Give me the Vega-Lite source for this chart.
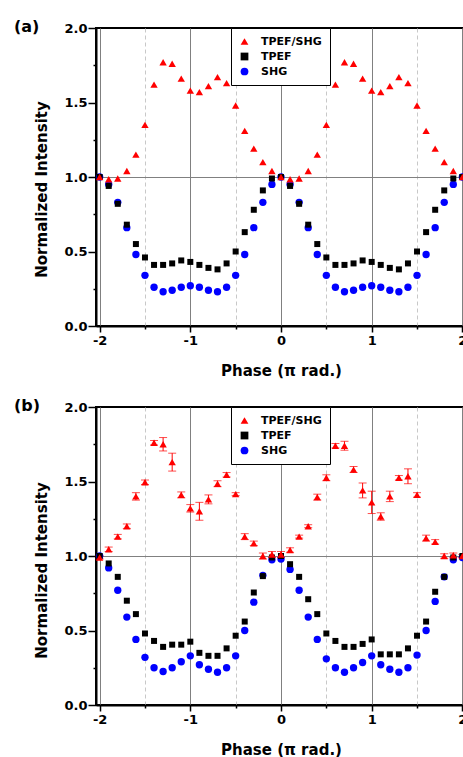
{
  "$schema": "https://vega.github.io/schema/vega-lite/v6.json",
  "background": "white",
  "padding": {"left": 13, "top": 18, "right": 0, "bottom": 0},
  "spacing": 18,
  "config": {
    "font": "DejaVu Sans",
    "view": {"stroke": "black", "strokeWidth": 2},
    "axis": {
      "labelFont": "DejaVu Sans", "labelFontWeight": "bold", "labelFontSize": 13, "labelColor": "black",
      "titleFont": "DejaVu Sans", "titleFontWeight": "bold", "titleFontSize": 15, "titleColor": "black",
      "domainColor": "black", "domainWidth": 2, "tickColor": "black", "tickWidth": 1.5
    },
    "title": {"font": "DejaVu Sans", "fontSize": 16, "fontWeight": "bold", "color": "black", "anchor": "start", "frame": "group"}
  },
  "resolve": {"scale": {"color": "independent", "shape": "independent"}, "legend": {"color": "independent", "shape": "independent"}},
  "datasets": {
    "a": [
      {"x": -2.0, "TPEF/SHG": 1.0, "TPEF": 1.0, "SHG": 1.0},
      {"x": -1.9, "TPEF/SHG": 0.985, "TPEF": 0.94, "SHG": 0.95},
      {"x": -1.8, "TPEF/SHG": 0.99, "TPEF": 0.82, "SHG": 0.83},
      {"x": -1.7, "TPEF/SHG": 1.04, "TPEF": 0.68, "SHG": 0.66},
      {"x": -1.6, "TPEF/SHG": 1.15, "TPEF": 0.55, "SHG": 0.48},
      {"x": -1.5, "TPEF/SHG": 1.35, "TPEF": 0.46, "SHG": 0.34},
      {"x": -1.4, "TPEF/SHG": 1.62, "TPEF": 0.41, "SHG": 0.26},
      {"x": -1.3, "TPEF/SHG": 1.77, "TPEF": 0.41, "SHG": 0.23},
      {"x": -1.2, "TPEF/SHG": 1.76, "TPEF": 0.42, "SHG": 0.24},
      {"x": -1.1, "TPEF/SHG": 1.66, "TPEF": 0.44, "SHG": 0.26},
      {"x": -1.0, "TPEF/SHG": 1.58, "TPEF": 0.43, "SHG": 0.27},
      {"x": -0.9, "TPEF/SHG": 1.57, "TPEF": 0.41, "SHG": 0.26},
      {"x": -0.8, "TPEF/SHG": 1.61, "TPEF": 0.39, "SHG": 0.24},
      {"x": -0.7, "TPEF/SHG": 1.67, "TPEF": 0.38, "SHG": 0.23},
      {"x": -0.6, "TPEF/SHG": 1.63, "TPEF": 0.42, "SHG": 0.26},
      {"x": -0.5, "TPEF/SHG": 1.48, "TPEF": 0.50, "SHG": 0.34},
      {"x": -0.4, "TPEF/SHG": 1.31, "TPEF": 0.63, "SHG": 0.48},
      {"x": -0.3, "TPEF/SHG": 1.19, "TPEF": 0.78, "SHG": 0.66},
      {"x": -0.2, "TPEF/SHG": 1.10, "TPEF": 0.91, "SHG": 0.83},
      {"x": -0.1, "TPEF/SHG": 1.04, "TPEF": 0.99, "SHG": 0.95},
      {"x": 0.0, "TPEF/SHG": 1.0, "TPEF": 1.0, "SHG": 1.0},
      {"x": 0.1, "TPEF/SHG": 0.985, "TPEF": 0.94, "SHG": 0.95},
      {"x": 0.2, "TPEF/SHG": 0.99, "TPEF": 0.82, "SHG": 0.83},
      {"x": 0.3, "TPEF/SHG": 1.04, "TPEF": 0.68, "SHG": 0.66},
      {"x": 0.4, "TPEF/SHG": 1.15, "TPEF": 0.55, "SHG": 0.48},
      {"x": 0.5, "TPEF/SHG": 1.35, "TPEF": 0.46, "SHG": 0.34},
      {"x": 0.6, "TPEF/SHG": 1.62, "TPEF": 0.41, "SHG": 0.26},
      {"x": 0.7, "TPEF/SHG": 1.77, "TPEF": 0.41, "SHG": 0.23},
      {"x": 0.8, "TPEF/SHG": 1.76, "TPEF": 0.42, "SHG": 0.24},
      {"x": 0.9, "TPEF/SHG": 1.66, "TPEF": 0.44, "SHG": 0.26},
      {"x": 1.0, "TPEF/SHG": 1.58, "TPEF": 0.43, "SHG": 0.27},
      {"x": 1.1, "TPEF/SHG": 1.57, "TPEF": 0.41, "SHG": 0.26},
      {"x": 1.2, "TPEF/SHG": 1.61, "TPEF": 0.39, "SHG": 0.24},
      {"x": 1.3, "TPEF/SHG": 1.67, "TPEF": 0.38, "SHG": 0.23},
      {"x": 1.4, "TPEF/SHG": 1.63, "TPEF": 0.42, "SHG": 0.26},
      {"x": 1.5, "TPEF/SHG": 1.48, "TPEF": 0.50, "SHG": 0.34},
      {"x": 1.6, "TPEF/SHG": 1.31, "TPEF": 0.63, "SHG": 0.48},
      {"x": 1.7, "TPEF/SHG": 1.19, "TPEF": 0.78, "SHG": 0.66},
      {"x": 1.8, "TPEF/SHG": 1.10, "TPEF": 0.91, "SHG": 0.83},
      {"x": 1.9, "TPEF/SHG": 1.04, "TPEF": 0.99, "SHG": 0.95},
      {"x": 2.0, "TPEF/SHG": 1.0, "TPEF": 1.0, "SHG": 1.0}
    ],
    "b": [
      {"x": -2.0, "TPEF/SHG": 0.99, "e": 0.01, "TPEF": 1.0, "SHG": 1.0},
      {"x": -1.9, "TPEF/SHG": 1.045, "e": 0.015, "TPEF": 0.95, "SHG": 0.92},
      {"x": -1.8, "TPEF/SHG": 1.13, "e": 0.015, "TPEF": 0.86, "SHG": 0.77},
      {"x": -1.7, "TPEF/SHG": 1.20, "e": 0.015, "TPEF": 0.70, "SHG": 0.59},
      {"x": -1.6, "TPEF/SHG": 1.40, "e": 0.025, "TPEF": 0.61, "SHG": 0.44},
      {"x": -1.5, "TPEF/SHG": 1.495, "e": 0.015, "TPEF": 0.48, "SHG": 0.32},
      {"x": -1.4, "TPEF/SHG": 1.76, "e": 0.015, "TPEF": 0.43, "SHG": 0.25},
      {"x": -1.3, "TPEF/SHG": 1.75, "e": 0.045, "TPEF": 0.39, "SHG": 0.225},
      {"x": -1.2, "TPEF/SHG": 1.63, "e": 0.06, "TPEF": 0.405, "SHG": 0.25},
      {"x": -1.1, "TPEF/SHG": 1.41, "e": 0.02, "TPEF": 0.405, "SHG": 0.29},
      {"x": -1.0, "TPEF/SHG": 1.32, "e": 0.025, "TPEF": 0.425, "SHG": 0.33},
      {"x": -0.9, "TPEF/SHG": 1.30, "e": 0.06, "TPEF": 0.35, "SHG": 0.27},
      {"x": -0.8, "TPEF/SHG": 1.38, "e": 0.03, "TPEF": 0.33, "SHG": 0.24},
      {"x": -0.7, "TPEF/SHG": 1.485, "e": 0.02, "TPEF": 0.33, "SHG": 0.22},
      {"x": -0.6, "TPEF/SHG": 1.545, "e": 0.015, "TPEF": 0.38, "SHG": 0.25},
      {"x": -0.5, "TPEF/SHG": 1.415, "e": 0.01, "TPEF": 0.465, "SHG": 0.33},
      {"x": -0.4, "TPEF/SHG": 1.13, "e": 0.02, "TPEF": 0.56, "SHG": 0.50},
      {"x": -0.3, "TPEF/SHG": 1.085, "e": 0.015, "TPEF": 0.755, "SHG": 0.69},
      {"x": -0.2, "TPEF/SHG": 1.0, "e": 0.02, "TPEF": 0.865, "SHG": 0.87},
      {"x": -0.1, "TPEF/SHG": 1.01, "e": 0.02, "TPEF": 0.99, "SHG": 0.975},
      {"x": 0.0, "TPEF/SHG": 1.01, "e": 0.02, "TPEF": 1.0, "SHG": 0.98},
      {"x": 0.1, "TPEF/SHG": 1.04, "e": 0.015, "TPEF": 0.945, "SHG": 0.91},
      {"x": 0.2, "TPEF/SHG": 1.13, "e": 0.01, "TPEF": 0.86, "SHG": 0.77},
      {"x": 0.3, "TPEF/SHG": 1.20, "e": 0.01, "TPEF": 0.71, "SHG": 0.59},
      {"x": 0.4, "TPEF/SHG": 1.395, "e": 0.02, "TPEF": 0.61, "SHG": 0.44},
      {"x": 0.5, "TPEF/SHG": 1.525, "e": 0.02, "TPEF": 0.48, "SHG": 0.31},
      {"x": 0.6, "TPEF/SHG": 1.74, "e": 0.015, "TPEF": 0.43, "SHG": 0.25},
      {"x": 0.7, "TPEF/SHG": 1.74, "e": 0.03, "TPEF": 0.39, "SHG": 0.22},
      {"x": 0.8, "TPEF/SHG": 1.58, "e": 0.02, "TPEF": 0.39, "SHG": 0.25},
      {"x": 0.9, "TPEF/SHG": 1.44, "e": 0.05, "TPEF": 0.41, "SHG": 0.285},
      {"x": 1.0, "TPEF/SHG": 1.36, "e": 0.075, "TPEF": 0.44, "SHG": 0.33},
      {"x": 1.1, "TPEF/SHG": 1.265, "e": 0.025, "TPEF": 0.34, "SHG": 0.27},
      {"x": 1.2, "TPEF/SHG": 1.40, "e": 0.035, "TPEF": 0.34, "SHG": 0.24},
      {"x": 1.3, "TPEF/SHG": 1.525, "e": 0.015, "TPEF": 0.34, "SHG": 0.22},
      {"x": 1.4, "TPEF/SHG": 1.535, "e": 0.05, "TPEF": 0.38, "SHG": 0.25},
      {"x": 1.5, "TPEF/SHG": 1.41, "e": 0.015, "TPEF": 0.465, "SHG": 0.335},
      {"x": 1.6, "TPEF/SHG": 1.12, "e": 0.02, "TPEF": 0.56, "SHG": 0.50},
      {"x": 1.7, "TPEF/SHG": 1.095, "e": 0.015, "TPEF": 0.76, "SHG": 0.695},
      {"x": 1.8, "TPEF/SHG": 1.0, "e": 0.015, "TPEF": 0.86, "SHG": 0.86},
      {"x": 1.9, "TPEF/SHG": 1.005, "e": 0.015, "TPEF": 0.99, "SHG": 0.975},
      {"x": 2.0, "TPEF/SHG": 1.0, "e": 0.01, "TPEF": 1.0, "SHG": 0.99}
    ]
  },
  "vconcat": [
    {
      "width": 370, "height": 298,
      "title": {"text": "(a)", "dx": -82, "offset": -13},
      "data": {"name": "a"},
      "transform": [{"fold": ["SHG", "TPEF", "TPEF/SHG"], "as": ["series", "val"]}],
      "mark": {"type": "point", "filled": true, "opacity": 1, "strokeWidth": 0},
      "encoding": {
        "x": {"field": "x", "type": "quantitative", "scale": {"domain": [-2.04, 2.04], "nice": false, "zero": false},
          "axis": {"title": "Phase (π rad.)", "values": [-2, -1.5, -1, -0.5, 0, 0.5, 1, 1.5, 2],
            "labelExpr": "datum.value % 1 == 0 ? '' + datum.value : ''",
            "grid": true,
            "gridColor": {"condition": {"test": "datum.value % 1 != 0", "value": "#c8c8c8"}, "value": "#808080"},
            "gridDash": {"condition": {"test": "datum.value % 1 != 0", "value": [4, 3]}, "value": []},
            "tickSize": {"condition": {"test": "datum.value % 1 != 0", "value": 3}, "value": 6},
            "labelPadding": 2, "titlePadding": 16}},
        "y": {"field": "val", "type": "quantitative", "scale": {"domain": [0, 2], "nice": false},
          "axis": {"title": "Normalized Intensity", "values": [0, 0.25, 0.5, 0.75, 1, 1.25, 1.5, 1.75, 2],
            "labelExpr": "datum.value % 0.5 == 0 ? format(datum.value, '.1f') : ''",
            "grid": true, "gridColor": "#808080",
            "gridOpacity": {"condition": {"test": "datum.value == 1", "value": 1}, "value": 0},
            "tickSize": {"condition": {"test": "datum.value % 0.5 != 0", "value": 3}, "value": 8},
            "labelPadding": 1, "titleY": 161, "titlePadding": 14}},
        "color": {"field": "series", "type": "nominal", "scale": {"domain": ["TPEF/SHG", "TPEF", "SHG"], "range": ["#ff0000", "#000000", "#0000ff"]},
          "legend": {"orient": "none", "legendX": 135, "legendY": 0, "title": null,
            "strokeColor": "black", "fillColor": "white", "padding": 8,
            "labelFont": "DejaVu Sans", "labelFontWeight": "bold", "labelFontSize": 11, "labelColor": "black",
            "symbolSize": 60, "rowPadding": 3, "labelOffset": 11, "symbolStrokeWidth": 0}},
        "shape": {"field": "series", "type": "nominal", "scale": {"domain": ["TPEF/SHG", "TPEF", "SHG"], "range": ["triangle-up", "square", "circle"]},
          "legend": {"orient": "none", "legendX": 135, "legendY": 0, "title": null,
            "strokeColor": "black", "fillColor": "white", "padding": 8,
            "labelFont": "DejaVu Sans", "labelFontWeight": "bold", "labelFontSize": 11, "labelColor": "black",
            "symbolSize": 60, "rowPadding": 3, "labelOffset": 11, "symbolStrokeWidth": 0}},
        "size": {"condition": {"test": "datum.series == 'TPEF'", "value": 36}, "value": 54},
        "order": {"field": "series", "sort": "ascending"}
      }
    },
    {
      "width": 370, "height": 298,
      "title": {"text": "(b)", "dx": -82, "offset": -13},
      "data": {"name": "b"},
      "transform": [{"fold": ["SHG", "TPEF", "TPEF/SHG"], "as": ["series", "val"]}],
      "encoding": {
        "x": {"field": "x", "type": "quantitative", "scale": {"domain": [-2.04, 2.04], "nice": false, "zero": false},
          "axis": {"title": "Phase (π rad.)", "values": [-2, -1.5, -1, -0.5, 0, 0.5, 1, 1.5, 2],
            "labelExpr": "datum.value % 1 == 0 ? '' + datum.value : ''",
            "grid": true,
            "gridColor": {"condition": {"test": "datum.value % 1 != 0", "value": "#c8c8c8"}, "value": "#808080"},
            "gridDash": {"condition": {"test": "datum.value % 1 != 0", "value": [4, 3]}, "value": []},
            "tickSize": {"condition": {"test": "datum.value % 1 != 0", "value": 3}, "value": 6},
            "labelPadding": 2, "titlePadding": 16}},
        "y": {"field": "val", "type": "quantitative", "scale": {"domain": [0, 2], "nice": false},
          "axis": {"title": "Normalized Intensity", "values": [0, 0.25, 0.5, 0.75, 1, 1.25, 1.5, 1.75, 2],
            "labelExpr": "datum.value % 0.5 == 0 ? format(datum.value, '.1f') : ''",
            "grid": true, "gridColor": "#808080",
            "gridOpacity": {"condition": {"test": "datum.value == 1", "value": 1}, "value": 0},
            "tickSize": {"condition": {"test": "datum.value % 0.5 != 0", "value": 3}, "value": 8},
            "labelPadding": 1, "titleY": 163, "titlePadding": 14}}
      },
      "layer": [
        {
          "transform": [{"filter": "datum.series == 'TPEF/SHG'"}],
          "mark": {"type": "errorbar", "color": "#ff0000", "thickness": 1, "ticks": {"size": 8, "color": "#ff0000", "thickness": 1}},
          "encoding": {"yError": {"field": "e"}}
        },
        {
          "mark": {"type": "point", "filled": true, "opacity": 1, "strokeWidth": 0},
          "encoding": {
            "color": {"field": "series", "type": "nominal", "scale": {"domain": ["TPEF/SHG", "TPEF", "SHG"], "range": ["#ff0000", "#000000", "#0000ff"]},
              "legend": {"orient": "none", "legendX": 135, "legendY": 0, "title": null,
                "strokeColor": "black", "fillColor": "white", "padding": 8,
                "labelFont": "DejaVu Sans", "labelFontWeight": "bold", "labelFontSize": 11, "labelColor": "black",
                "symbolSize": 60, "rowPadding": 3, "labelOffset": 11, "symbolStrokeWidth": 0}},
            "shape": {"field": "series", "type": "nominal", "scale": {"domain": ["TPEF/SHG", "TPEF", "SHG"], "range": ["triangle-up", "square", "circle"]},
              "legend": {"orient": "none", "legendX": 135, "legendY": 0, "title": null,
                "strokeColor": "black", "fillColor": "white", "padding": 8,
                "labelFont": "DejaVu Sans", "labelFontWeight": "bold", "labelFontSize": 11, "labelColor": "black",
                "symbolSize": 60, "rowPadding": 3, "labelOffset": 11, "symbolStrokeWidth": 0}},
            "size": {"condition": {"test": "datum.series == 'TPEF'", "value": 36}, "value": 54},
            "order": {"field": "series", "sort": "ascending"}
          }
        }
      ]
    }
  ]
}
